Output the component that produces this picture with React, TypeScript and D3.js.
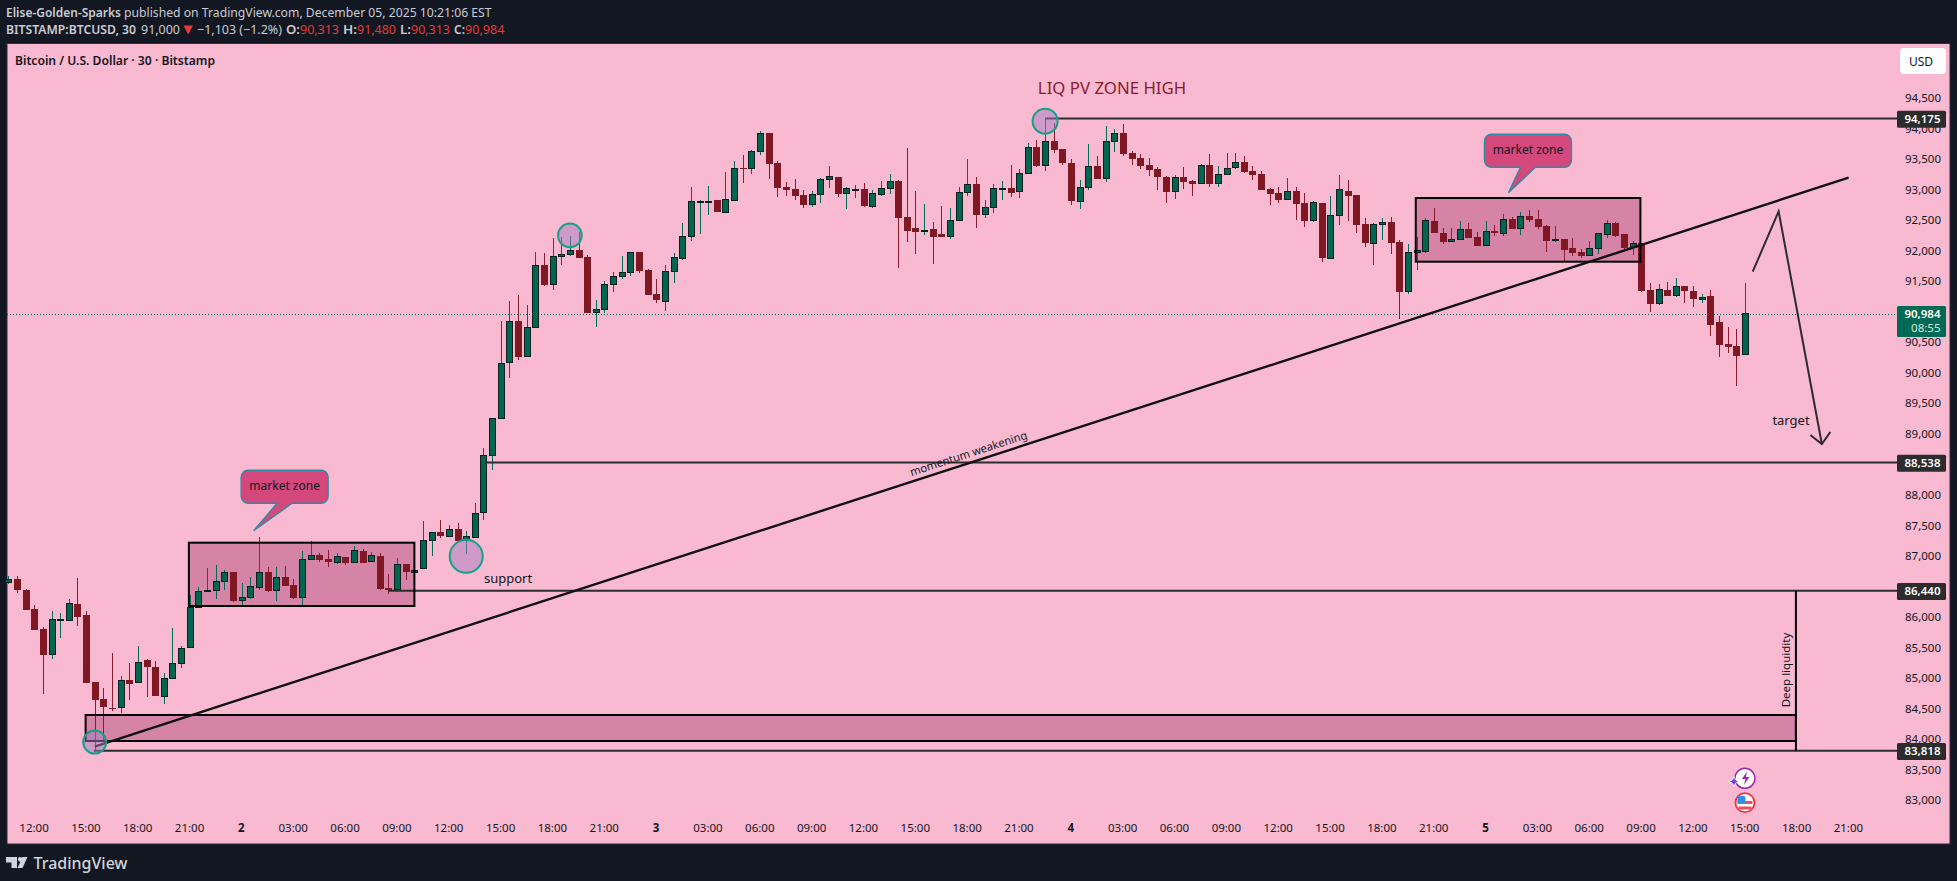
import React, { useEffect, useRef } from "react";
import * as d3 from "d3";

const opens = [
  86571,86631,86451,86140,85812,85392,85965,85949,86222,86042,
  84944,84666,84524,84524,84977,84933,85305,85190,84704,84999,
  85245,85507,86167,86440,86440,86588,86741,86276,86326,86489,
  86741,86440,86664,86528,86326,86948,87024,86954,86899,86986,
  86899,87090,86915,87008,86484,86457,86877,86751,86800,87259,
  87401,87336,87450,87265,87308,87718,88651,89263,90175,90857,
  90273,90748,91774,91452,91911,91944,92020,91905,90994,91043,
  91452,91583,91649,91987,91692,91299,91174,91665,91878,92238,
  92812,92812,92839,92632,92828,93358,93352,93631,93936,93445,
  93052,93019,92921,92763,92926,93172,93216,92943,93008,93019,
  92730,92926,93025,93150,92561,92381,92342,92364,92282,92239,
  92501,92959,93101,92599,92714,93024,93036,92976,93271,93707,
  93402,93806,93675,93445,92812,93041,93396,93189,93795,93937,
  93609,93527,93412,93347,93216,92976,93216,93150,93107,93412,
  93107,93254,93369,93462,93314,93265,93019,92954,92845,92987,
  92790,92501,92790,91878,92583,92987,92921,92446,92124,92435,
  92479,92151,91338,91982,91993,92490,92293,92157,92190,92359,
  92233,92091,92332,92288,92523,92370,92572,92523,92408,92173,
  92195,92048,91988,91928,92042,92272,92463,92277,92059,92130,
  91360,91141,91360,91272,91425,91343,91223,91267,90841,90481,
  90448,90313,
];
const highs = [
  86681,86681,86462,86200,85845,86107,86074,86304,86648,86107,
  84944,84846,85419,85043,85255,85534,85321,85288,85092,85829,
  85534,86369,86500,86812,86861,86773,86751,86566,86664,87319,
  86822,86828,86844,86631,87090,87254,87057,87106,87057,86992,
  87172,87123,87074,87057,86713,86970,86877,86943,87581,87396,
  87598,87516,87548,87417,87876,88777,89263,90857,91185,91283,
  91119,91987,91971,92217,92233,92249,92315,91938,91201,91512,
  91660,91922,91982,91987,91709,91545,91774,91971,92462,93052,
  92839,93068,92839,93298,93478,93576,93653,93969,93936,93478,
  93134,93183,93003,92986,93199,93396,93216,93052,93085,93117,
  93003,93150,93265,93167,93691,92987,92774,92479,92741,92708,
  93052,93511,93216,92839,93101,93150,93412,93347,93773,93822,
  94161,94100,93675,93511,93167,93756,93560,94051,94002,94084,
  93642,93593,93527,93380,93232,93249,93380,93167,93429,93593,
  93396,93609,93609,93560,93396,93314,93036,93052,93200,93052,
  92954,92823,92790,92905,93249,93167,92921,92544,92462,92544,
  92561,92184,92119,92233,92545,92708,92381,92381,92495,92463,
  92315,92495,92430,92610,92561,92643,92676,92676,92424,92413,
  92195,92217,92037,92168,92293,92512,92479,92277,92168,92130,
  91480,91463,91496,91562,91425,91431,91300,91365,90940,90759,
  90727,91480,
];
const lows = [
  86549,86408,86124,85796,84748,85321,85665,85949,85862,84928,
  83803,83967,84469,84436,84649,84933,84699,84715,84584,84999,
  85179,85507,86167,86440,86304,86451,86260,86189,86304,86451,
  86413,86271,86517,86298,86200,86948,86910,86828,86877,86861,
  86899,86893,86915,86451,86386,86457,86615,86751,86800,87008,
  87303,87319,87254,87041,87308,87598,88417,89263,89924,90218,
  90273,90748,91430,91365,91774,91922,91889,90988,90759,90988,
  91332,91545,91594,91643,91283,91152,91021,91479,91856,92167,
  92282,92593,92642,92632,92828,93117,93265,93576,93183,92888,
  92905,92839,92708,92724,92790,93036,92888,92692,92872,92724,
  92708,92905,92937,91725,92151,91955,92266,91791,92233,92200,
  92501,92905,92381,92544,92626,92839,92888,92872,93271,93380,
  93314,93609,93412,92757,92692,93003,93183,93134,93625,93560,
  93412,93347,93232,93003,92790,92856,93019,92905,93107,93052,
  93052,93254,93347,93281,93167,93003,92757,92790,92845,92512,
  92397,92479,91824,91878,92430,92495,92299,92069,91774,92184,
  91955,90890,91300,91693,91977,92299,92119,92157,92190,92217,
  92086,92091,92250,92250,92364,92266,92479,92364,91988,92151,
  91824,91922,91889,91928,91955,92217,92233,92037,91938,91332,
  91005,91119,91267,91251,91152,91087,91158,90612,90268,90333,
  89793,90313,
];
const closes = [
  86626,86451,86124,85796,85386,85971,85971,86233,86009,84928,
  84649,84535,84513,84972,84911,85266,85190,84715,85004,85250,
  85496,86167,86429,86446,86593,86741,86271,86331,86511,86741,
  86435,86659,86517,86320,86954,87019,86943,86910,87003,86893,
  87101,86893,87019,86468,86451,86872,86746,86784,87265,87396,
  87336,87445,87254,87330,87707,88657,89263,90164,90852,90268,
  90753,91769,91447,91916,91949,92015,91889,90988,91048,91458,
  91589,91654,91982,91676,91283,91201,91671,91900,92244,92817,
  92817,92817,92642,92850,93358,93352,93636,93931,93429,93036,
  93003,92905,92757,92932,93178,93227,92937,93030,93014,92741,
  92948,93030,93145,92544,92331,92315,92348,92233,92233,92506,
  92965,93096,92593,92719,93030,93030,92954,93276,93702,93396,
  93800,93658,93445,92823,93047,93391,93183,93800,93931,93593,
  93511,93396,93331,93216,92970,93210,93134,93101,93407,93101,
  93260,93358,93456,93298,93249,93003,92937,92839,92981,92774,
  92495,92801,91889,92588,93014,92905,92430,92135,92441,92473,
  92135,91332,91982,92015,92506,92299,92151,92195,92359,92217,
  92086,92326,92304,92523,92364,92572,92512,92397,92168,92195,
  92020,91971,91922,92048,92293,92457,92250,92048,92130,91349,
  91136,91376,91267,91425,91349,91218,91256,90792,90464,90432,
  90284,90984,
];

const priceTicks = d3.range(83000, 94501, 500);
const timeLabels = [
  "12:00","15:00","18:00","21:00","2","03:00","06:00","09:00","12:00","15:00","18:00","21:00",
  "3","03:00","06:00","09:00","12:00","15:00","18:00","21:00",
  "4","03:00","06:00","09:00","12:00","15:00","18:00","21:00",
  "5","03:00","06:00","09:00","12:00","15:00","18:00","21:00",
];
const timeBars = timeLabels.map((_, i) => 3 + i * 6);
const lastPrice = 90984;

// bar from, bar to, price
const levels: [number, number, number][] = [
  [120, 218.6, 94175],
  [55.2, 218.6, 88538],
  [44, 218.6, 86440],
  [9.9, 218.6, 83818],
];
// bar from, bar to, price top, price bottom
const zones: [number, number, number, number][] = [
  [20.9, 47, 87226, 86189],
  [8.95, 206.9, 84404, 83978],
  [162.9, 188.9, 92872, 91829],
];
// bar, price, radius
const circles: [number, number, number][] = [
  [10, 83960, 11.5],
  [53, 87003, 16.5],
  [65, 92260, 11.8],
  [120, 94130, 12.5],
];
const trendline: [number, number][] = [[10, 83885], [213, 93205]];
const projection: [number, number][] = [[201.9, 91665], [204.9, 92654], [209.9, 88843]];

const W = 1957;
const H = 881;
const paneLeft = 7;
const paneTop = 43.5;
const paneRight = 1950;
const paneBottom = 844;
const tagLeft = 1897;
const tagRight = 1946;

const FRAME = "#131722";
const PANE = "#f9b9d0";
const UP = "#00664f";
const DOWN = "#7f1823";
const INK = "#2c2c2c";
const FONT = "'Noto Sans', sans-serif";

const App: React.FC = () => {
  const svgRef = useRef<SVGSVGElement | null>(null);

  useEffect(() => {
    const x = d3.scaleLinear().domain([0, 201]).range([8.3, 8.3 + 8.64 * 201]);
    const y = d3
      .scaleLinear()
      .domain([83000, 94500])
      .range([800.7, 800.7 - 11500 * 0.06105]);

    const svg = d3.select(svgRef.current);
    svg.selectAll("*").remove();

    svg.append("rect").attr("width", W).attr("height", H).attr("fill", FRAME);
    svg
      .append("rect")
      .attr("x", paneLeft)
      .attr("y", paneTop)
      .attr("width", paneRight - paneLeft)
      .attr("height", paneBottom - paneTop)
      .attr("fill", PANE)
      .attr("stroke", "#2a2e39");

    // header, each piece squeezed to the width it has in the original
    const header = svg.append("g").attr("font-family", FONT).attr("font-size", 12.5).attr("fill", "#c9ccd4");
    const headerText = (
      tx: number,
      ty: number,
      text: string,
      len: number,
      bold = false,
      fill = "#c9ccd4"
    ) =>
      header
        .append("text")
        .attr("x", tx)
        .attr("y", ty)
        .attr("textLength", len)
        .attr("lengthAdjust", "spacingAndGlyphs")
        .attr("font-weight", bold ? 600 : 400)
        .attr("fill", fill)
        .text(text);
    headerText(6, 16.5, "Elise-Golden-Sparks", 115, true);
    headerText(124, 16.5, "published on TradingView.com, December 05, 2025 10:21:06 EST", 367.6);
    headerText(6, 34, "BITSTAMP:BTCUSD, 30", 130, true);
    headerText(141, 34, "91,000", 39);
    header.append("path").attr("d", "M183.5,25.5H193L188.2,34.5Z").attr("fill", "#e53935");
    headerText(197, 34, "−1,103 (−1.2%)", 85);
    headerText(286, 34, "O:", 14, true);
    headerText(300, 34, "90,313", 39, false, "#e53935");
    headerText(343, 34, "H:", 14, true);
    headerText(357, 34, "91,480", 39, false, "#e53935");
    headerText(400, 34, "L:", 11, true);
    headerText(411, 34, "90,313", 39, false, "#e53935");
    headerText(454, 34, "C:", 11, true);
    headerText(465, 34, "90,984", 39.6, false, "#e53935");

    svg
      .append("text")
      .attr("x", 15)
      .attr("y", 65)
      .attr("textLength", 200)
      .attr("lengthAdjust", "spacingAndGlyphs")
      .attr("font-family", FONT)
      .attr("font-size", 12.5)
      .attr("font-weight", 600)
      .attr("fill", FRAME)
      .text("Bitcoin / U.S. Dollar · 30 · Bitstamp");

    // zone fills go under the candles
    svg
      .append("g")
      .selectAll("rect")
      .data(zones)
      .join("rect")
      .attr("x", (d) => x(d[0]))
      .attr("y", (d) => y(d[2]))
      .attr("width", (d) => x(d[1]) - x(d[0]))
      .attr("height", (d) => y(d[3]) - y(d[2]))
      .attr("fill", "#d683a8");

    svg
      .append("line")
      .attr("x1", paneLeft)
      .attr("x2", tagLeft)
      .attr("y1", Math.round(y(lastPrice)) + 1.5)
      .attr("y2", Math.round(y(lastPrice)) + 1.5)
      .attr("stroke", UP)
      .attr("stroke-dasharray", "1 2")
      .attr("shape-rendering", "crispEdges");

    // candles
    const bars = d3.range(opens.length);
    const candles = svg.append("g").attr("shape-rendering", "crispEdges");
    candles
      .selectAll("line")
      .data(bars)
      .join("line")
      .attr("x1", (i) => Math.round(x(i)) + 0.5)
      .attr("x2", (i) => Math.round(x(i)) + 0.5)
      .attr("y1", (i) => y(highs[i]))
      .attr("y2", (i) => y(lows[i]))
      .attr("stroke", (i) => (closes[i] >= opens[i] ? "#006a54" : "#8b1a2e"));
    candles
      .selectAll("rect")
      .data(bars)
      .join("rect")
      .attr("x", (i) => Math.round(x(i)) - (closes[i] >= opens[i] ? 2.5 : 3))
      .attr("width", (i) => (closes[i] >= opens[i] ? 6 : 7))
      .attr("y", (i) => Math.round(y(Math.max(opens[i], closes[i]))) + (closes[i] >= opens[i] ? 0.5 : 0))
      .attr("height", (i) => Math.max(1, Math.abs(y(opens[i]) - y(closes[i]))))
      .attr("fill", (i) => (closes[i] >= opens[i] ? UP : DOWN))
      .attr("stroke", (i) => (closes[i] >= opens[i] ? "#0b1f1f" : "none"));

    // horizontal levels
    svg
      .append("g")
      .selectAll("line")
      .data(levels)
      .join("line")
      .attr("x1", (d) => x(d[0]))
      .attr("x2", (d) => x(d[1]))
      .attr("y1", (d) => y(d[2]))
      .attr("y2", (d) => y(d[2]))
      .attr("stroke", INK)
      .attr("stroke-width", 2);

    svg
      .append("g")
      .selectAll("rect")
      .data(zones)
      .join("rect")
      .attr("x", (d) => x(d[0]))
      .attr("y", (d) => y(d[2]))
      .attr("width", (d) => x(d[1]) - x(d[0]))
      .attr("height", (d) => y(d[3]) - y(d[2]))
      .attr("fill", "none")
      .attr("stroke", "#000")
      .attr("stroke-width", 2);

    svg
      .append("line")
      .attr("x1", x(206.9))
      .attr("x2", x(206.9))
      .attr("y1", y(86440))
      .attr("y2", y(83818))
      .attr("stroke", "#000")
      .attr("stroke-width", 2);

    const lineGen = d3
      .line<[number, number]>()
      .x((d) => x(d[0]))
      .y((d) => y(d[1]));

    svg
      .append("path")
      .attr("d", lineGen(trendline))
      .attr("fill", "none")
      .attr("stroke", "#111")
      .attr("stroke-width", 2.4);

    svg
      .append("g")
      .selectAll("circle")
      .data(circles)
      .join("circle")
      .attr("cx", (d) => x(d[0]))
      .attr("cy", (d) => y(d[1]))
      .attr("r", (d) => d[2])
      .attr("fill", "rgba(163,125,192,0.5)")
      .attr("stroke", "#14a085")
      .attr("stroke-width", 2);

    // projected move and its arrow head
    svg
      .append("path")
      .attr("d", lineGen(projection))
      .attr("fill", "none")
      .attr("stroke", INK)
      .attr("stroke-width", 2);
    const tip = projection[2];
    svg
      .append("path")
      .attr("d", `M${x(tip[0]) - 11.5},${y(tip[1]) - 9}L${x(tip[0])},${y(tip[1])}L${x(tip[0]) + 8.5},${y(tip[1]) - 12}`)
      .attr("fill", "none")
      .attr("stroke", INK)
      .attr("stroke-width", 2);

    // speech bubbles
    const bubble = (cx: number, cy: number, tailDx: number, tailDy: number) => {
      const w = 87;
      const h = 33;
      const r = 7;
      const l = cx - w / 2;
      const t = cy - h / 2;
      const p = d3.path();
      p.moveTo(l + r, t);
      p.lineTo(l + w - r, t);
      p.arcTo(l + w, t, l + w, t + r, r);
      p.lineTo(l + w, t + h - r);
      p.arcTo(l + w, t + h, l + w - r, t + h, r);
      p.lineTo(l + 51, t + h);
      p.lineTo(cx + tailDx, cy + tailDy);
      p.lineTo(l + 36, t + h);
      p.lineTo(l + r, t + h);
      p.arcTo(l, t + h, l, t + h - r, r);
      p.lineTo(l, t + r);
      p.arcTo(l, t, l + r, t, r);
      p.closePath();
      svg
        .append("path")
        .attr("d", p.toString())
        .attr("fill", "#d4487c")
        .attr("stroke", "#2f8ca5")
        .attr("stroke-width", 1.4);
      svg
        .append("text")
        .attr("x", cx)
        .attr("y", cy + 3.6)
        .attr("text-anchor", "middle")
        .attr("font-family", FONT)
        .attr("font-size", 12)
        .attr("fill", FRAME)
        .text("market zone");
    };
    bubble(x(32.1) - 1, 486.8, -31, 44);
    bubble(x(176.0) - 1, 150.8, -19.5, 42);

    // free text
    const note = (tx: number, ty: number, text: string, size: number, fill = FRAME, rotate = 0) =>
      svg
        .append("text")
        .attr("transform", `translate(${tx},${ty}) rotate(${rotate})`)
        .attr("text-anchor", "middle")
        .attr("dy", "0.35em")
        .attr("font-family", FONT)
        .attr("font-size", size)
        .attr("fill", fill)
        .text(text);
    note(1112, 88, "LIQ PV ZONE HIGH", 16.8, "#8b1a2e");
    note(508, 578, "support", 13);
    note(1791, 420, "target", 13);
    note(968.5, 453.5, "momentum weakening", 11.2, FRAME, -18);
    note(1786, 670, "Deep liquidity", 11.5, FRAME, -90);

    // USD button
    svg
      .append("rect")
      .attr("x", 1900)
      .attr("y", 48)
      .attr("width", 46)
      .attr("height", 26)
      .attr("rx", 4)
      .attr("fill", "#fff");
    svg
      .append("text")
      .attr("x", 1909)
      .attr("y", 66)
      .attr("font-family", FONT)
      .attr("font-size", 12)
      .attr("fill", FRAME)
      .text("USD");

    // axes
    const yAxis = svg
      .append("g")
      .attr("transform", "translate(1941,-0.6)")
      .call(d3.axisRight(y).tickValues(priceTicks).tickSize(0).tickFormat(d3.format(",") as any));
    yAxis.select(".domain").remove();
    yAxis
      .selectAll("text")
      .attr("x", 0)
      .attr("text-anchor", "end")
      .attr("font-family", FONT)
      .attr("font-size", 11.5)
      .attr("fill", FRAME);

    const xAxis = svg
      .append("g")
      .attr("transform", "translate(-0.7,821)")
      .call(
        d3
          .axisBottom(x)
          .tickValues(timeBars)
          .tickSize(0)
          .tickFormat((_, i) => timeLabels[i])
      );
    xAxis.select(".domain").remove();
    xAxis
      .selectAll("text")
      .attr("font-family", FONT)
      .attr("font-size", 11.5)
      .attr("font-weight", (_, i) => (timeLabels[i].length === 1 ? 700 : 400))
      .attr("fill", FRAME);

    // price tags on the axis
    const tags = svg
      .append("g")
      .selectAll("g")
      .data(levels.map((d) => d[2]))
      .join("g")
      .attr("transform", (d) => `translate(${tagLeft},${y(d) + 0.7})`);
    tags
      .append("rect")
      .attr("y", -8.5)
      .attr("width", tagRight - tagLeft)
      .attr("height", 17)
      .attr("rx", 1.5)
      .attr("fill", INK);
    tags
      .append("text")
      .attr("x", tagRight - tagLeft - 5.5)
      .attr("dy", "0.35em")
      .attr("text-anchor", "end")
      .attr("font-family", FONT)
      .attr("font-size", 11.5)
      .attr("font-weight", 600)
      .attr("fill", "#fff")
      .text((d) => d3.format(",")(d));

    svg
      .append("rect")
      .attr("x", tagLeft)
      .attr("y", 306)
      .attr("width", tagRight - tagLeft)
      .attr("height", 31)
      .attr("rx", 1.5)
      .attr("fill", "#006a54");
    svg
      .append("text")
      .attr("x", tagRight - 5.5)
      .attr("y", 318)
      .attr("text-anchor", "end")
      .attr("font-family", FONT)
      .attr("font-size", 11.5)
      .attr("font-weight", 600)
      .attr("fill", "#fff")
      .text(d3.format(",")(lastPrice));
    svg
      .append("text")
      .attr("x", tagRight - 5.5)
      .attr("y", 331.5)
      .attr("text-anchor", "end")
      .attr("font-family", FONT)
      .attr("font-size", 11.5)
      .attr("fill", "#d5e8e3")
      .text("08:55");

    // event icons under the last bar
    const iconX = x(201);
    svg
      .append("circle")
      .attr("cx", iconX)
      .attr("cy", 778.3)
      .attr("r", 10)
      .attr("fill", "#fff")
      .attr("stroke", "#9c27b0")
      .attr("stroke-width", 1.5);
    svg
      .append("path")
      .attr("d", `M${iconX + 2},771.5l-5,7.5h3.5l-1.5,6l5.5,-8h-3.5z`)
      .attr("fill", "#9c27b0");
    svg
      .append("path")
      .attr("d", `M${iconX - 11},776.5q0.8,4.2 5,5q-4.2,0.8 -5,5q-0.8,-4.2 -5,-5q4.2,-0.8 5,-5z`)
      .attr("fill", "#6f42f5")
      .attr("stroke", "#fff")
      .attr("stroke-width", 0.8);
    svg
      .append("circle")
      .attr("cx", iconX)
      .attr("cy", 802.7)
      .attr("r", 9.5)
      .attr("fill", "#fff")
      .attr("stroke", "#f23645")
      .attr("stroke-width", 1.8);
    svg.append("rect").attr("x", iconX - 7.5).attr("y", 801).attr("width", 15).attr("height", 3).attr("fill", "#f0505c");
    svg.append("rect").attr("x", iconX - 6.5).attr("y", 806.5).attr("width", 13).attr("height", 3).attr("fill", "#f0505c");
    svg.append("rect").attr("x", iconX - 7.5).attr("y", 796).attr("width", 8).attr("height", 7).attr("rx", 1.5).attr("fill", "#2f8fe8");

    // brand mark
    svg
      .append("path")
      .attr("d", "M6,857H17V868H11.5V862.5H6Z M27.5,857L22.5,868H17.5L22.5,857Z")
      .attr("fill", "#d1d4dc");
    svg.append("circle").attr("cx", 20.3).attr("cy", 859.4).attr("r", 2.4).attr("fill", "#d1d4dc");
    svg
      .append("text")
      .attr("x", 33.5)
      .attr("y", 868.5)
      .attr("font-family", FONT)
      .attr("font-size", 16)
      .attr("font-weight", 500)
      .attr("fill", "#d1d4dc")
      .text("TradingView");
  }, []);

  return (
    <svg
      ref={svgRef}
      width={W}
      height={H}
      style={{ position: "fixed", left: 0, top: 0, display: "block" }}
    />
  );
};

export default App;
